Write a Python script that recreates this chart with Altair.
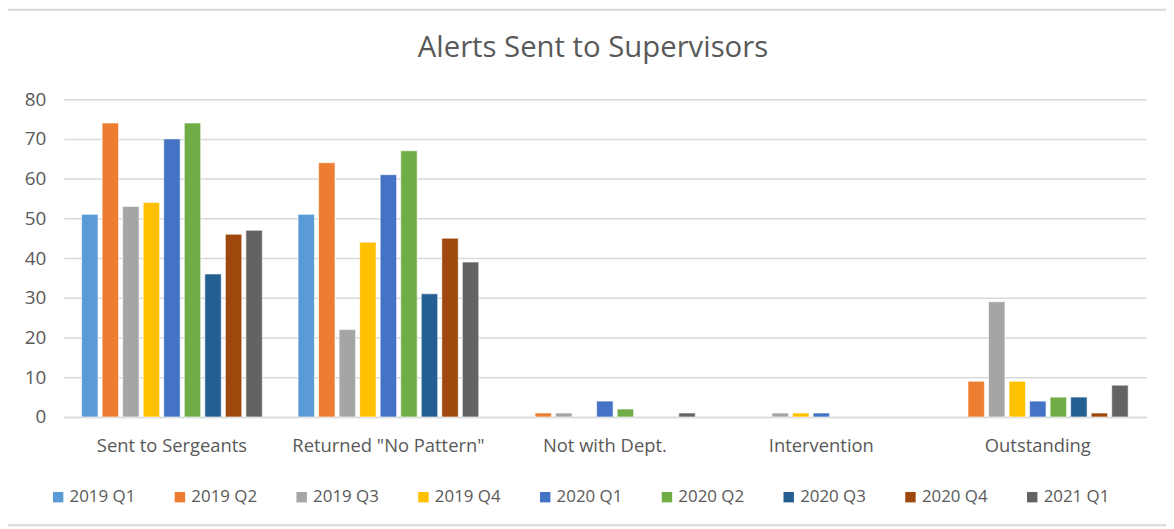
import altair as alt
import pandas as pd

categories = ["Sent to Sergeants", 'Returned "No Pattern"', "Not with Dept.", "Intervention", "Outstanding"]
series = ["2019 Q1", "2019 Q2", "2019 Q3", "2019 Q4", "2020 Q1", "2020 Q2", "2020 Q3", "2020 Q4", "2021 Q1"]
colors = ["#5B9BD5", "#ED7D31", "#A5A5A5", "#FFC000", "#4472C4", "#70AD47", "#255E91", "#9E480E", "#636363"]

values = {
    "2019 Q1": [51, 51, 0, 0, 0],
    "2019 Q2": [74, 64, 1, 0, 9],
    "2019 Q3": [53, 22, 1, 1, 29],
    "2019 Q4": [54, 44, 0, 1, 9],
    "2020 Q1": [70, 61, 4, 1, 4],
    "2020 Q2": [74, 67, 2, 0, 5],
    "2020 Q3": [36, 31, 0, 0, 5],
    "2020 Q4": [46, 45, 0, 0, 1],
    "2021 Q1": [47, 39, 1, 0, 8],
}

rows = []
for s in series:
    for c, v in zip(categories, values[s]):
        rows.append({"category": c, "series": s, "value": v})
df = pd.DataFrame(rows)

FONT = "Open Sans"
GRAY = "#595959"

bars = alt.Chart(df).mark_bar(stroke="white", strokeWidth=0.6).encode(
    x=alt.X("category:N", sort=categories, title=None,
            scale=alt.Scale(domain=categories, paddingInner=0.165, paddingOuter=0.083),
            axis=alt.Axis(labelAngle=0, labelPadding=20, labelFontSize=18.5, labelColor=GRAY,
                          labelFont=FONT, labelLimit=0, ticks=False,
                          domainColor="#D9D9D9", domainWidth=1.5)),
    xOffset=alt.XOffset("series:N", sort=series, scale=alt.Scale(domain=series, paddingInner=0.2)),
    y=alt.Y("value:Q", title=None,
            scale=alt.Scale(domain=[0, 80], nice=False),
            axis=alt.Axis(values=list(range(0, 81, 10)), labelPadding=18, labelFontSize=19,
                          labelColor=GRAY, labelFont=FONT, ticks=False, domain=False,
                          gridColor="#D9D9D9", gridWidth=1.5)),
    color=alt.Color("series:N", sort=series,
                    scale=alt.Scale(domain=series, range=colors),
                    legend=alt.Legend(title=None, orient="none", legendX=-14, legendY=392,
                                      direction="horizontal", columns=9, symbolType="square",
                                      symbolSize=110, symbolStrokeWidth=0, labelFontSize=17,
                                      labelColor=GRAY, labelFont=FONT, labelOffset=3,
                                      columnPadding=35.6)),
).transform_filter("datum.value > 0")

frame = alt.Chart(alt.Data(values=[{}])).mark_rect(
    fill=None, stroke="#D9D9D9", strokeWidth=2
).encode(
    x=alt.value(-57), x2=alt.value(1140), y=alt.value(-90), y2=alt.value(429)
)

chart = alt.layer(frame, bars).properties(
    width=1090, height=320,
    padding={"left": 56, "top": 90, "right": 20, "bottom": 111},
    autosize=alt.AutoSizeParams(type="none"),
    title=alt.TitleParams("Alerts Sent to Supervisors", fontSize=29.5, font=FONT,
                          fontWeight="normal", color=GRAY, anchor="middle", dx=-12, offset=-55),
).configure_view(stroke=None)

chart.save("out.html", embed_options={"renderer": "svg", "actions": False})
